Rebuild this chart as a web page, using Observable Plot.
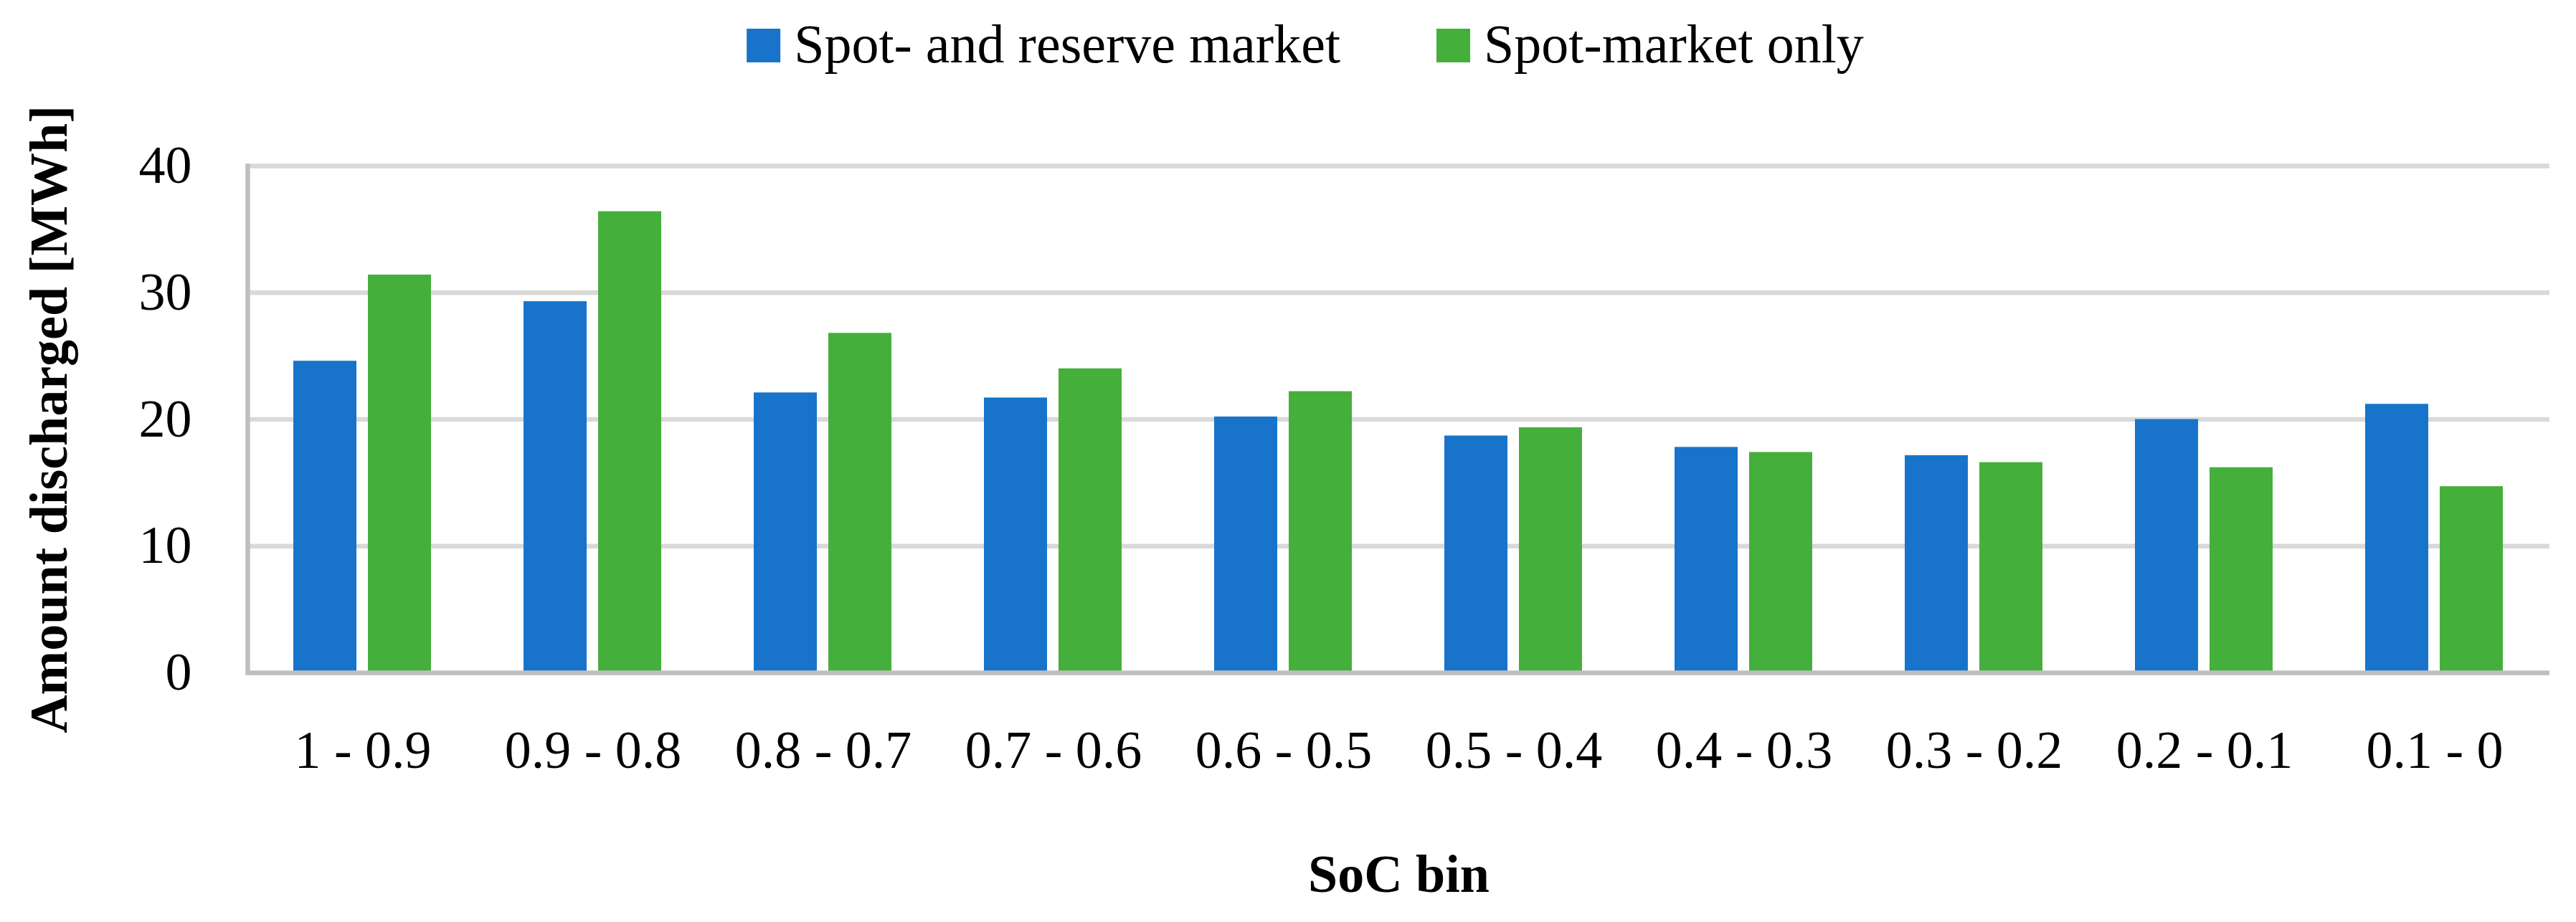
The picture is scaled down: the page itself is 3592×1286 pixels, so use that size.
<!DOCTYPE html>
<html>
<head>
<meta charset="utf-8">
<script src="https://cdn.jsdelivr.net/npm/d3@7"></script>
<script src="https://cdn.jsdelivr.net/npm/@observablehq/plot@0.6"></script>
<style>
  html, body { margin: 0; padding: 0; background: #fff; }
  #legend { display: block; }
</style>
</head>
<body>
<svg id="legend" width="3592" height="130"></svg>
<div id="chart"></div>
<script>
const categories = ["1 - 0.9", "0.9 - 0.8", "0.8 - 0.7", "0.7 - 0.6", "0.6 - 0.5", "0.5 - 0.4", "0.4 - 0.3", "0.3 - 0.2", "0.2 - 0.1", "0.1 - 0"];
const seriesNames = ["Spot- and reserve market", "Spot-market only"];
const spotAndReserve = [24.6, 29.3, 22.1, 21.7, 20.2, 18.7, 17.8, 17.15, 20.0, 21.2];
const spotOnly = [31.4, 36.4, 26.8, 24.0, 22.2, 19.35, 17.4, 16.6, 16.2, 14.7];
const colors = ["#1874CA", "#45AF3C"];
const yTicks = [0, 10, 20, 30, 40];
const yTitle = "Amount discharged [MWh]";
const xTitle = "SoC bin";

const rows = categories.flatMap((c, i) => [
  {bin: c, series: seriesNames[0], value: spotAndReserve[i]},
  {bin: c, series: seriesNames[1], value: spotOnly[i]}
]);

const FONT = "'Liberation Serif', 'Times New Roman', serif";

// Legend (above the chart)
const leg = d3.select("#legend");
const items = leg.selectAll("g").data(seriesNames).join("g");
items.append("rect").attr("width", 47).attr("height", 47).attr("y", 40)
  .attr("fill", (d, i) => colors[i]);
items.append("text").text(d => d).attr("x", 66).attr("y", 87)
  .attr("font-family", FONT).attr("font-size", 76).attr("fill", "#000");
let widths = [];
items.each(function() { widths.push(d3.select(this).select("text").node().getComputedTextLength()); });
const itemGap = 134;
const total = widths.reduce((a, w) => a + 66 + w, 0) + itemGap * (widths.length - 1);
let cx = 1820 - total / 2;
items.attr("transform", (d, i) => {
  const t = `translate(${cx},0)`;
  cx += 66 + widths[i] + itemGap;
  return t;
});

const chart = Plot.plot({
  width: 3592,
  height: 1156,
  marginLeft: 343,
  marginRight: 35,
  marginTop: 101,
  marginBottom: 348,
  style: {fontFamily: FONT, fontSize: "74px", color: "#000", background: "#fff"},
  fx: {domain: categories, padding: 0, label: null},
  x: {domain: seriesNames, paddingInner: 0.15, paddingOuter: 0.617, axis: null},
  y: {domain: [0, 40]},
  color: {domain: seriesNames, range: colors},
  marks: [
    Plot.gridY(yTicks.filter(d => d > 0), {stroke: "#d9d9d9", strokeOpacity: 1, strokeWidth: 6.5}),
    Plot.barY(rows, {fx: "bin", x: "series", y: "value", fill: "series"}),
    Plot.ruleY([0], {stroke: "#bfbfbf", strokeWidth: 6.5}),
    Plot.frame({anchor: "left", facetAnchor: "left", stroke: "#bfbfbf", strokeWidth: 6.5}),
    Plot.axisY(yTicks, {tickSize: 0, tickPadding: 78, label: null}),
    Plot.axisY([], {label: yTitle, labelAnchor: "center", labelArrow: "none", labelOffset: 305, fontWeight: "bold"}),
    Plot.axisFx({anchor: "bottom", tickSize: 0, tickPadding: 80, label: null}),
    Plot.axisFx([], {anchor: "bottom", label: xTitle, labelAnchor: "center", labelArrow: "none", labelOffset: 305, fontWeight: "bold"})
  ]
});
document.getElementById("chart").appendChild(chart);
</script>
</body>
</html>
